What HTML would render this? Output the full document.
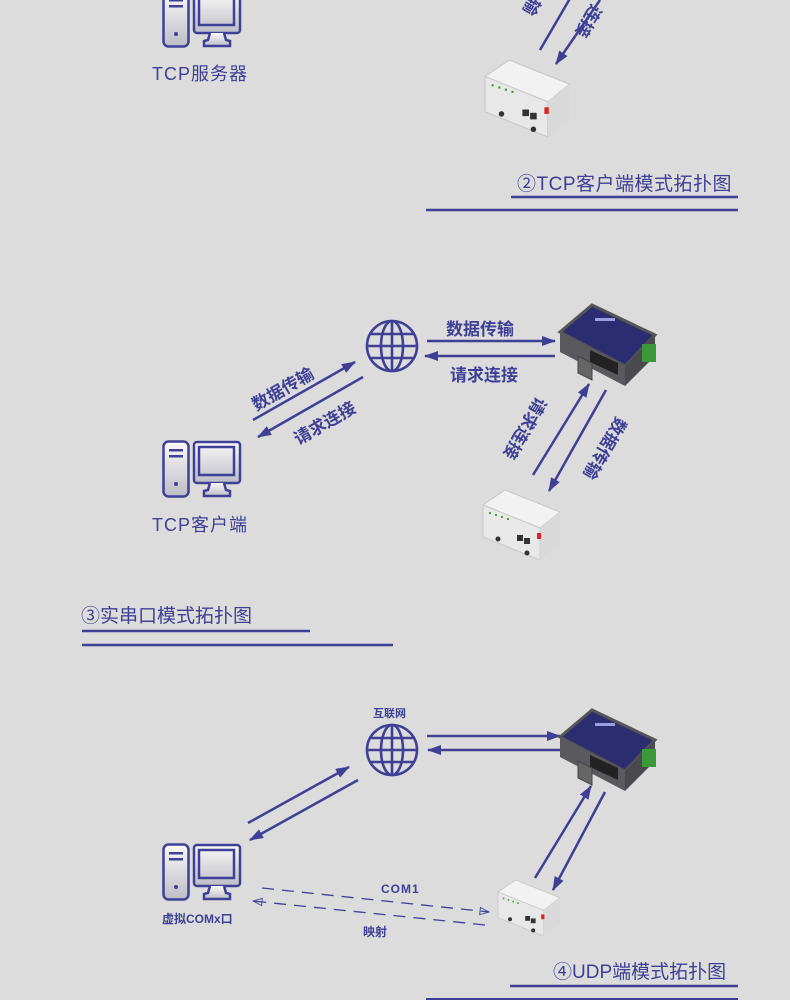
<!DOCTYPE html>
<html><head><meta charset="utf-8"><style>
html,body{margin:0;padding:0;background:#dcdcdc;}
svg{display:block;}
text{font-family:"Liberation Sans","Noto Sans CJK SC",sans-serif;fill:#3f3f96;}
</style></head><body>
<svg width="790" height="1000" viewBox="0 0 790 1000" xmlns="http://www.w3.org/2000/svg">
<defs>
<marker id="ar" viewBox="0 0 14 10" refX="13" refY="5" markerWidth="6" markerHeight="4" orient="auto" markerUnits="strokeWidth">
<path d="M0,0 L14,5 L0,10 z" fill="#3f3f96"/></marker>
<marker id="ho" viewBox="0 0 12 10" refX="11" refY="5" markerWidth="12" markerHeight="9" orient="auto" markerUnits="userSpaceOnUse">
<path d="M1,1 L11,5 L1,9 z" fill="none" stroke="#3f3f96" stroke-width="1"/></marker>
<linearGradient id="tg" x1="0" y1="0" x2="0" y2="1"><stop offset="0" stop-color="#fafafa"/><stop offset="1" stop-color="#bdbdc6"/></linearGradient>
<g id="pc">
<rect x="1.5" y="1.5" width="25" height="55" rx="5" fill="url(#tg)" stroke="#3f3f96" stroke-width="2.5"/>
<rect x="7" y="9" width="14" height="2.5" fill="#3f3f96"/><rect x="7" y="15" width="14" height="2.5" fill="#3f3f96"/>
<circle cx="14" cy="44" r="2" fill="#3f3f96"/>
<rect x="32" y="2" width="46" height="41" rx="3" fill="url(#tg)" stroke="#3f3f96" stroke-width="2.5"/>
<rect x="37" y="7" width="35" height="28" fill="none" stroke="#3f3f96" stroke-width="2.5"/>
<path d="M48,43 L46,50 L42,51 L42,56 L68,56 L68,51 L64,50 L62,43" fill="url(#tg)" stroke="#3f3f96" stroke-width="2.5"/>
</g>
<g id="globe" fill="none" stroke="#3f3f96" stroke-width="2.6">
<circle cx="0" cy="0" r="25"/>
<ellipse cx="0" cy="0" rx="11" ry="25"/>
<line x1="0" y1="-25" x2="0" y2="25"/>
<line x1="-25" y1="0" x2="25" y2="0"/>
<line x1="-21" y1="-12" x2="21" y2="-12"/>
<line x1="-21" y1="12" x2="21" y2="12"/>
</g>
<g id="gw">
<polygon points="560,332 592,305 655,335 625,366" fill="#2c2c70" stroke="#555" stroke-width="3"/>
<polygon points="560,332 625,366 625,386 560,352" fill="#5a5a5e"/>
<polygon points="625,366 655,335 655,356 625,386" fill="#4a4a4e"/>
<polygon points="590,350 618,363 618,375 590,362" fill="#222"/>
<rect x="642" y="344" width="14" height="18" fill="#3a9a3a"/>
<polygon points="578,356 592,363 592,380 578,373" fill="#666" stroke="#444"/>
<rect x="595" y="318" width="20" height="3" fill="#9aa0e0"/>
</g>
<g id="mod">
<polygon points="483,505 505,490 560,512 540,528" fill="#f2f2f2" stroke="#c8c8c8"/>
<polygon points="483,505 540,528 540,560 483,537" fill="#e8e8e8" stroke="#c8c8c8"/>
<polygon points="540,528 560,512 560,545 540,560" fill="#d9d9d9"/>
<g fill="#4a9a4a"><rect x="489" y="512" width="2" height="2"/><rect x="495" y="514" width="2" height="2"/><rect x="501" y="516" width="2" height="2"/><rect x="507" y="518" width="2" height="2"/></g>
<rect x="517" y="535" width="6" height="6" fill="#333"/><rect x="524" y="538" width="6" height="6" fill="#333"/>
<rect x="537" y="533" width="4" height="6" fill="#d22"/>
<circle cx="498" cy="539" r="2.5" fill="#333"/><circle cx="527" cy="553" r="2.5" fill="#333"/>
</g>
</defs>

<!-- Section 1 -->
<use href="#pc" x="162" y="-10"/>
<text x="152" y="80" font-size="18" letter-spacing="1">TCP服务器</text>
<g stroke="#3f3f96" stroke-width="2.5" fill="none">
<line x1="540" y1="50" x2="572" y2="-5"/>
<line x1="600" y1="0" x2="556" y2="64" marker-end="url(#ar)"/>
</g>
<text font-size="17" font-weight="bold" transform="translate(532,6) rotate(120)" x="-8" y="6">输</text>
<text font-size="17" font-weight="bold" transform="translate(588,22) rotate(120)" x="-18" y="6">连接</text>
<use href="#mod" transform="translate(485,60) scale(1.1) translate(-483,-490)"/>
<text x="517" y="190" font-size="19" letter-spacing="0.5">②TCP客户端模式拓扑图</text>
<line x1="511" y1="197" x2="738" y2="197" stroke="#3f3f96" stroke-width="2.5"/>
<line x1="426" y1="210" x2="738" y2="210" stroke="#3f3f96" stroke-width="2.5"/>

<!-- Section 2 -->
<use href="#globe" x="392" y="346"/>
<g stroke="#3f3f96" stroke-width="2.5" fill="none">
<line x1="427" y1="341" x2="555" y2="341" marker-end="url(#ar)"/>
<line x1="555" y1="356" x2="425" y2="356" marker-end="url(#ar)"/>
<line x1="253" y1="420" x2="355" y2="362" marker-end="url(#ar)"/>
<line x1="363" y1="377" x2="258" y2="437" marker-end="url(#ar)"/>
<line x1="533" y1="475" x2="589" y2="384" marker-end="url(#ar)"/>
<line x1="606" y1="390" x2="549" y2="491" marker-end="url(#ar)"/>
</g>
<text x="446" y="335" font-size="17" font-weight="bold">数据传输</text>
<text x="450" y="381" font-size="17" font-weight="bold">请求连接</text>
<text font-size="17" font-weight="bold" transform="translate(288,386) rotate(-30)" x="-40" y="6">数据传输</text>
<text font-size="17" font-weight="bold" transform="translate(330,420) rotate(-30)" x="-40" y="6">请求连接</text>
<text font-size="17" font-weight="bold" transform="translate(524,430) rotate(120)" x="-36" y="6">请求连接</text>
<text font-size="17" font-weight="bold" transform="translate(604,450) rotate(120)" x="-36" y="6">数据传输</text>
<use href="#gw"/>
<use href="#mod"/>
<use href="#pc" x="162" y="440"/>
<text x="152" y="531" font-size="18" letter-spacing="1">TCP客户端</text>

<!-- Section 3 -->
<text x="81" y="622" font-size="19">③实串口模式拓扑图</text>
<line x1="82" y1="631" x2="310" y2="631" stroke="#3f3f96" stroke-width="2.5"/>
<line x1="82" y1="645" x2="393" y2="645" stroke="#3f3f96" stroke-width="2.5"/>

<!-- Section 4 -->
<text x="373" y="717" font-size="11" font-weight="bold">互联网</text>
<use href="#globe" x="392" y="750"/>
<g stroke="#3f3f96" stroke-width="2.5" fill="none">
<line x1="427" y1="736" x2="560" y2="736" marker-end="url(#ar)"/>
<line x1="560" y1="750" x2="428" y2="750" marker-end="url(#ar)"/>
<line x1="248" y1="823" x2="349" y2="767" marker-end="url(#ar)"/>
<line x1="358" y1="780" x2="250" y2="840" marker-end="url(#ar)"/>
<line x1="535" y1="878" x2="591" y2="786" marker-end="url(#ar)"/>
<line x1="605" y1="792" x2="553" y2="890" marker-end="url(#ar)"/>
</g>
<g stroke="#3f3f96" stroke-width="1.3" fill="none" stroke-dasharray="12,8">
<line x1="262" y1="888" x2="489" y2="912" marker-end="url(#ho)"/>
<line x1="485" y1="925" x2="253" y2="901" marker-end="url(#ho)"/>
</g>
<text x="381" y="893" font-size="12" font-weight="bold" letter-spacing="1">COM1</text>
<text x="363" y="936" font-size="12" font-weight="bold">映射</text>
<use href="#gw" transform="translate(0,405)"/>
<use href="#mod" transform="translate(498,880) scale(0.8) translate(-483,-490)"/>
<use href="#pc" x="162" y="843"/>
<text x="162" y="923" font-size="12" font-weight="bold">虚拟COMx口</text>
<text x="553" y="978" font-size="19">④UDP端模式拓扑图</text>
<line x1="510" y1="986" x2="738" y2="986" stroke="#3f3f96" stroke-width="2.5"/>
<line x1="426" y1="999" x2="738" y2="999" stroke="#3f3f96" stroke-width="2"/>
</svg>
</body></html>
